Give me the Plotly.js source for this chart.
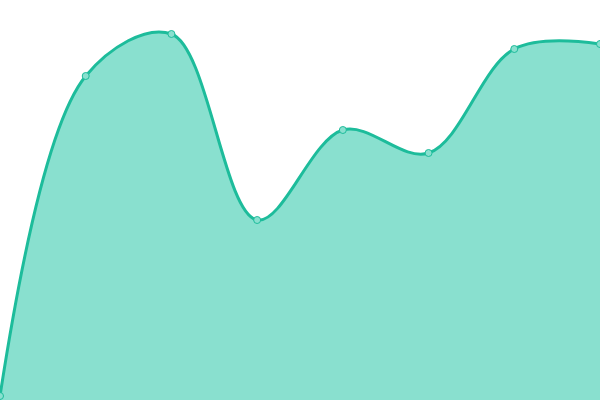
<!DOCTYPE html>
<html>
<head>
<meta charset="utf-8">
<script src="https://cdn.plot.ly/plotly-3.0.1.min.js"></script>
<style>
  html, body { margin: 0; padding: 0; background: #fff; }
  #chart { width: 600px; height: 400px; }
</style>
</head>
<body>
<div id="chart"></div>
<script>
const xs = [0, 1, 2, 3, 4, 5, 6, 7];
const values = [1, 81, 91.5, 45, 67.5, 61.75, 87.75, 89];

const trace = {
  x: xs,
  y: values,
  type: 'scatter',
  mode: 'lines+markers',
  fill: 'tozeroy',
  fillcolor: '#89e0cf',
  line: { shape: 'spline', smoothing: 1, color: '#1dbc9b', width: 3 },
  marker: { size: 7, color: '#89e0cf', line: { color: '#1dbc9b', width: 1 } },
  hoverinfo: 'none',
  cliponaxis: false,
};

const layout = {
  width: 600,
  height: 400,
  margin: { l: 0, r: 0, t: 0, b: 0 },
  paper_bgcolor: '#fff',
  plot_bgcolor: '#fff',
  showlegend: false,
  xaxis: { range: [0, 7], visible: false, fixedrange: true },
  yaxis: { range: [0, 100], visible: false, fixedrange: true },
};

Plotly.newPlot('chart', [trace], layout, { displayModeBar: false, staticPlot: true });
</script>
</body>
</html>
